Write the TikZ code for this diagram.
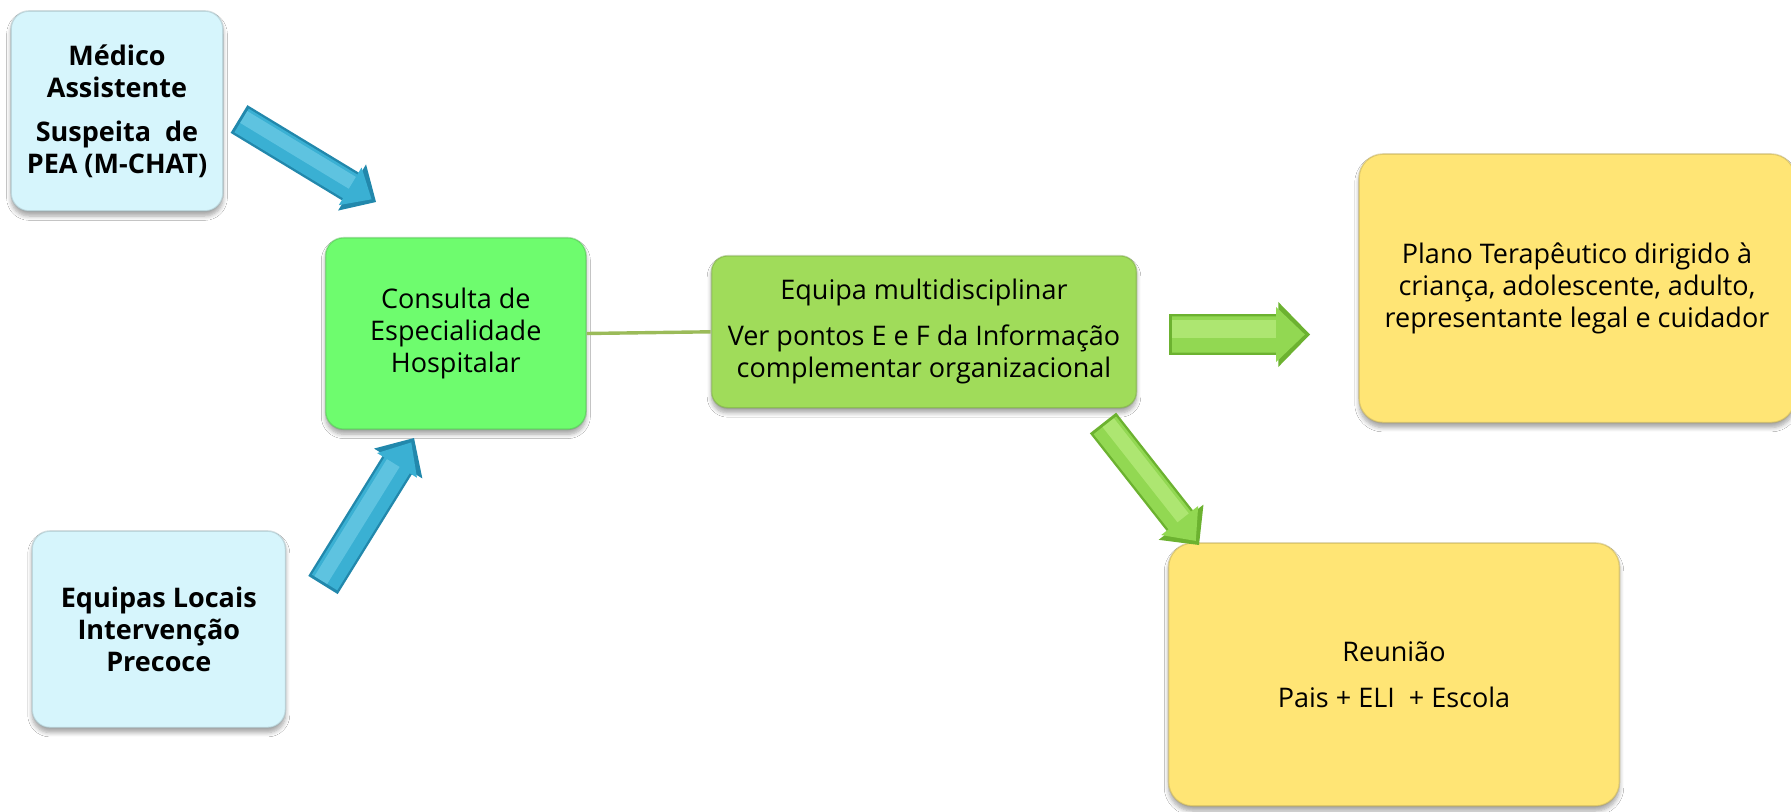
\documentclass[tikz,border=0pt]{standalone}
\usepackage{fontspec}
\setmainfont{Open Sans}
\usetikzlibrary{calc,shadows.blur}
\definecolor{cyanbox}{RGB}{214,245,252}
\definecolor{greenbox}{RGB}{110,252,110}
\definecolor{limebox}{RGB}{160,220,90}
\definecolor{yellowbox}{RGB}{255,229,117}
\definecolor{linkcol}{RGB}{155,187,89}
\definecolor{bluedarkc}{RGB}{34,136,172}
\definecolor{bluemidc}{RGB}{58,176,211}
\definecolor{bluelightc}{RGB}{125,212,236}
\definecolor{greendarkc}{RGB}{108,178,48}
\definecolor{greenmidc}{RGB}{146,216,82}
\definecolor{greenlightc}{RGB}{192,240,135}
\tikzset{
  box/.style={rounded corners=9pt, fill=#1, draw=#1!70!black, draw opacity=0.4,
    line width=0.8pt, align=center, inner sep=0pt,
    blur shadow={shadow xshift=0pt, shadow yshift=-2.5pt, shadow opacity=35, shadow blur steps=6},
    font=\fontsize{13.5pt}{16pt}\selectfont},
  boldtext/.style={font=\fontsize{13.5pt}{16pt}\selectfont\bfseries},
  bluedark/.style={fill=bluedarkc},
  bluemid/.style={fill=bluemidc},
  bluelight/.style={draw=bluelightc, draw opacity=0.55},
  greendark/.style={fill=greendarkc},
  greenmid/.style={fill=greenmidc},
  greenlight/.style={draw=greenlightc, draw opacity=0.6},
  link/.style={draw=linkcol, line width=1.7pt},
}
% block arrow shape: #1 start, #2 end, #3 shaft half width, #4 head half width, #5 head length, #6 style
\newcommand{\barrowshape}[6]{%
  \coordinate (#1-hb) at ($(#2)!#5!(#1)$);
  \path[#6] ($(#1)!#3!90:(#2)$) -- ($(#1-hb)!#3!90:(#2)$) -- ($(#1-hb)!#4!90:(#2)$)
    -- (#2) -- ($(#1-hb)!#4!-90:(#2)$) -- ($(#1-hb)!#3!-90:(#2)$)
    -- ($(#1)!#3!-90:(#2)$) -- cycle;
}
% bevelled arrow
\newcommand{\bevarrow}[9]{%
  \coordinate (#1i) at ($(#1)!1.5pt!(#2)$);
  \coordinate (#2i) at ($(#2)!2.6pt!(#1)$);
  \barrowshape{#1}{#2}{#3}{#4}{#5}{#9dark}
  \barrowshape{#1i}{#2i}{#6}{#7}{#8}{#9mid}
  \draw[#9light, line width=#6] ($(#1i)!0.3*#6!90:(#2i)$) -- ($(#1i-hb)!0.3*#6!90:(#2i)$);
}
\begin{document}
\begin{tikzpicture}[x=0.5pt,y=-0.5pt]
\useasboundingbox (0,0) rectangle (1791,812);
\fill[white] (0,0) rectangle (1791,812);

% boxes
\node[box=cyanbox, boldtext, minimum width=106pt, minimum height=100pt] (med) at (117,111)
  {Médico\\Assistente\\[6pt]Suspeita\ \ de\\PEA (M-CHAT)};
\node[box=cyanbox, boldtext, minimum width=126.75pt, minimum height=98.3pt] (eli) at (158.8,629.3)
  {Equipas Locais\\Intervenção\\Precoce};
\node[box=greenbox, minimum width=130.25pt, minimum height=95.75pt] (cons) at (455.8,333.5)
  {Consulta de\\Especialidade\\Hospitalar};
\node[box=limebox, rounded corners=8pt, minimum width=212.5pt, minimum height=76pt] (eqm) at (924,331.8)
  {Equipa multidisciplinar\\[7pt]Ver pontos E e F da Informação\\complementar organizacional};
\node[box=yellowbox, rounded corners=12pt, minimum width=218pt, minimum height=134.3pt] (plano) at (1577,288.3)
  {Plano Terapêutico dirigido à\\criança, adolescente, adulto,\\representante legal e cuidador};
\node[box=yellowbox, rounded corners=12pt, minimum width=225.5pt, minimum height=131.5pt] (reun) at (1394,674.5)
  {Reunião\\[7pt]Pais + ELI\ \ + Escola};

% connector line
\draw[link] (cons.east) -- (eqm.west);

% arrow end points
\coordinate (a1s) at (239,119);
\coordinate (a1e) at (376,202);
\coordinate (a2s) at (323,585);
\coordinate (a2e) at (414,438);
\coordinate (a3s) at (1169,334.5);
\coordinate (a3e) at (1310,334.5);
\coordinate (a4s) at (1103,423);
\coordinate (a4e) at (1199,545);

\bevarrow{a1s}{a1e}{8.1pt}{13.5pt}{14pt}{6.9pt}{11pt}{12.5pt}{blue}
\bevarrow{a2s}{a2e}{8.65pt}{14.2pt}{15pt}{7.45pt}{11.7pt}{13.5pt}{blue}
\bevarrow{a3s}{a3e}{10.2pt}{16.25pt}{15.85pt}{9pt}{13.75pt}{14.35pt}{green}
\bevarrow{a4s}{a4e}{8.35pt}{14.25pt}{14.5pt}{7.15pt}{11.75pt}{13pt}{green}
\end{tikzpicture}
\end{document}
